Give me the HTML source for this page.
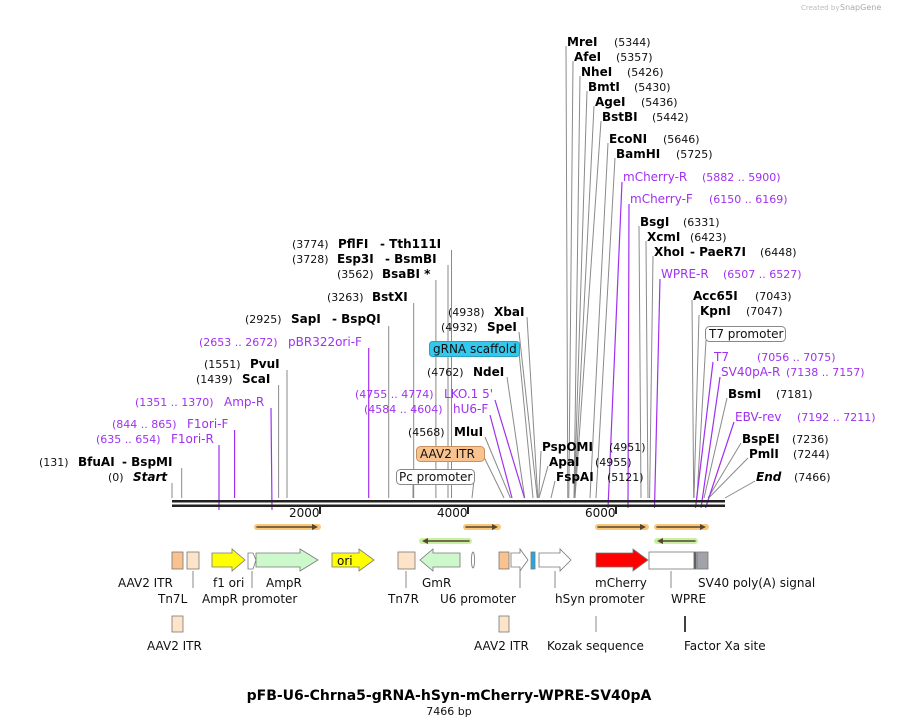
<!DOCTYPE html>
<html><head><meta charset="utf-8"><style>
body{margin:0;background:#fff;}
svg{display:block;font-family:"DejaVu Sans","Liberation Sans",sans-serif;}
.n{font-size:11px;fill:#111;}
.b{font-size:12px;font-weight:bold;fill:#000;}
.p{font-size:12px;fill:#a030f0;}
.pn{font-size:11px;fill:#a030f0;}
.f{font-size:12px;fill:#111;}
.g{stroke:#8a8a8a;stroke-width:1;fill:none;}
.pl{stroke:#a030f0;stroke-width:1.2;fill:none;}
</style></head><body>
<svg width="898" height="727" viewBox="0 0 898 727">
<text x="801" y="10" font-size="7" fill="#bbb">Created by</text><text x="840" y="10" font-size="8" fill="#aaa">SnapGene</text>

<!-- right-side label lines -->
<g class="g">
<line x1="566" y1="46" x2="567.8" y2="498"/>
<line x1="573" y1="61" x2="568.8" y2="498"/>
<line x1="580" y1="76" x2="574" y2="498"/>
<line x1="587" y1="91" x2="574.2" y2="498"/>
<line x1="594" y1="106" x2="574.6" y2="498"/>
<line x1="601" y1="121" x2="575" y2="498"/>
<line x1="608" y1="143" x2="590" y2="498"/>
<line x1="615" y1="158" x2="596" y2="498"/>
<line x1="639" y1="226" x2="641" y2="498"/>
<line x1="646" y1="241" x2="648" y2="498"/>
<line x1="653" y1="256" x2="649.6" y2="498"/>
<line x1="692" y1="300" x2="693.7" y2="498"/>
<line x1="699" y1="315" x2="694" y2="498"/>
<line x1="727" y1="398" x2="704" y2="498"/>
<line x1="741" y1="443" x2="708" y2="498"/>
<line x1="748" y1="458" x2="708.6" y2="498"/>
<line x1="755" y1="481" x2="725" y2="498"/>
<line x1="541" y1="451" x2="538.7" y2="498"/>
<line x1="548" y1="466" x2="539" y2="498"/>
<line x1="555" y1="481" x2="551" y2="498"/>
<line x1="706" y1="340" x2="697" y2="498"/>
<!-- left-side -->
<line x1="451.5" y1="250" x2="451.5" y2="498"/>
<line x1="448" y1="265" x2="448" y2="498"/>
<line x1="435.9" y1="280" x2="435.9" y2="498"/>
<line x1="413.7" y1="303" x2="413.7" y2="498"/>
<line x1="388.7" y1="326" x2="388.7" y2="498"/>
<line x1="287" y1="370" x2="287" y2="498"/>
<line x1="278.6" y1="385" x2="278.6" y2="498"/>
<line x1="181.7" y1="468" x2="181.7" y2="498"/>
<line x1="172" y1="483" x2="172" y2="498"/>
<line x1="527" y1="317" x2="537.8" y2="498"/>
<line x1="519" y1="332" x2="537.3" y2="498"/>
<line x1="519" y1="352" x2="533" y2="498"/>
<line x1="507" y1="377" x2="524.7" y2="498"/>
<line x1="485" y1="437" x2="510.4" y2="498"/>
<line x1="484" y1="457" x2="504" y2="498"/>
<line x1="474" y1="480" x2="472" y2="498"/>
<line x1="413" y1="485" x2="413" y2="498"/>
</g>
<g class="pl">
<line x1="622" y1="182" x2="608" y2="508"/>
<line x1="629" y1="204" x2="628" y2="508"/>
<line x1="660" y1="279" x2="654.5" y2="508"/>
<line x1="713" y1="362" x2="695.5" y2="508"/>
<line x1="720" y1="377" x2="701" y2="508"/>
<line x1="734" y1="422" x2="705.5" y2="508"/>
<line x1="368.7" y1="348" x2="368.7" y2="498"/>
<line x1="271" y1="408" x2="272" y2="510"/>
<line x1="234.6" y1="430" x2="234.6" y2="498"/>
<line x1="219" y1="445" x2="219" y2="510"/>
<line x1="495" y1="400" x2="524.5" y2="498"/>
<line x1="490" y1="415" x2="512" y2="498"/>
</g>

<!-- right labels -->
<text x="567" y="46" class="b">MreI</text><text x="614" y="46" class="n">(5344)</text>
<text x="574" y="61" class="b">AfeI</text><text x="616" y="61" class="n">(5357)</text>
<text x="581" y="76" class="b">NheI</text><text x="627" y="76" class="n">(5426)</text>
<text x="588" y="91" class="b">BmtI</text><text x="634" y="91" class="n">(5430)</text>
<text x="595" y="106" class="b">AgeI</text><text x="641" y="106" class="n">(5436)</text>
<text x="602" y="121" class="b">BstBI</text><text x="652" y="121" class="n">(5442)</text>
<text x="609" y="143" class="b">EcoNI</text><text x="663" y="143" class="n">(5646)</text>
<text x="616" y="158" class="b">BamHI</text><text x="676" y="158" class="n">(5725)</text>
<text x="623" y="181" class="p">mCherry-R</text><text x="702" y="181" class="pn">(5882 .. 5900)</text>
<text x="630" y="203" class="p">mCherry-F</text><text x="709" y="203" class="pn">(6150 .. 6169)</text>
<text x="640" y="226" class="b">BsgI</text><text x="683" y="226" class="n">(6331)</text>
<text x="647" y="241" class="b">XcmI</text><text x="690" y="241" class="n">(6423)</text>
<text x="654" y="256" class="b">XhoI</text><text x="690" y="256" class="b">- PaeR7I</text><text x="760" y="256" class="n">(6448)</text>
<text x="661" y="278" class="p">WPRE-R</text><text x="723" y="278" class="pn">(6507 .. 6527)</text>
<text x="693" y="300" class="b">Acc65I</text><text x="755" y="300" class="n">(7043)</text>
<text x="700" y="315" class="b">KpnI</text><text x="746" y="315" class="n">(7047)</text>
<rect x="705.5" y="326.5" width="80" height="15" rx="4" fill="#fff" stroke="#888"/><text x="709" y="338" class="f">T7 promoter</text>
<text x="714" y="361" class="p">T7</text><text x="757" y="361" class="pn">(7056 .. 7075)</text>
<text x="721" y="376" class="p">SV40pA-R</text><text x="786" y="376" class="pn">(7138 .. 7157)</text>
<text x="728" y="398" class="b">BsmI</text><text x="776" y="398" class="n">(7181)</text>
<text x="735" y="421" class="p">EBV-rev</text><text x="797" y="421" class="pn">(7192 .. 7211)</text>
<text x="742" y="443" class="b">BspEI</text><text x="792" y="443" class="n">(7236)</text>
<text x="749" y="458" class="b">PmlI</text><text x="793" y="458" class="n">(7244)</text>
<text x="756" y="481" class="b" font-style="italic">End</text><text x="794" y="481" class="n">(7466)</text>
<text x="542" y="451" class="b">PspOMI</text><text x="609" y="451" class="n">(4951)</text>
<text x="549" y="466" class="b">ApaI</text><text x="595" y="466" class="n">(4955)</text>
<text x="556" y="481" class="b">FspAI</text><text x="607" y="481" class="n">(5121)</text>

<!-- left labels -->
<text x="292" y="248" class="n">(3774)</text><text x="338" y="248" class="b">PflFI</text><text x="380" y="248" class="b">- Tth111I</text>
<text x="292" y="263" class="n">(3728)</text><text x="337" y="263" class="b">Esp3I</text><text x="385" y="263" class="b">- BsmBI</text>
<text x="337" y="278" class="n">(3562)</text><text x="382" y="278" class="b">BsaBI *</text>
<text x="327" y="301" class="n">(3263)</text><text x="372" y="301" class="b">BstXI</text>
<text x="245" y="323" class="n">(2925)</text><text x="291" y="323" class="b">SapI</text><text x="332" y="323" class="b">- BspQI</text>
<text x="199" y="346" class="pn">(2653 .. 2672)</text><text x="288" y="346" class="p">pBR322ori-F</text>
<text x="204" y="368" class="n">(1551)</text><text x="250" y="368" class="b">PvuI</text>
<text x="196" y="383" class="n">(1439)</text><text x="242" y="383" class="b">ScaI</text>
<text x="135" y="406" class="pn">(1351 .. 1370)</text><text x="224" y="406" class="p">Amp-R</text>
<text x="112" y="428" class="pn">(844 .. 865)</text><text x="187" y="428" class="p">F1ori-F</text>
<text x="96" y="443" class="pn">(635 .. 654)</text><text x="171" y="443" class="p">F1ori-R</text>
<text x="39" y="466" class="n">(131)</text><text x="78" y="466" class="b">BfuAI</text><text x="122" y="466" class="b">- BspMI</text>
<text x="108" y="481" class="n">(0)</text><text x="133" y="481" class="b" font-style="italic">Start</text>
<text x="448" y="316" class="n">(4938)</text><text x="494" y="316" class="b">XbaI</text>
<text x="441" y="331" class="n">(4932)</text><text x="487" y="331" class="b">SpeI</text>
<rect x="429.5" y="341.5" width="90" height="15" rx="3" fill="#33c8ee" stroke="#2aa0c0"/><text x="433" y="353" class="f">gRNA scaffold</text>
<text x="427" y="376" class="n">(4762)</text><text x="473" y="376" class="b">NdeI</text>
<text x="355" y="398" class="pn">(4755 .. 4774)</text><text x="444" y="398" class="p">LKO.1 5'</text>
<text x="364" y="413" class="pn">(4584 .. 4604)</text><text x="453" y="413" class="p">hU6-F</text>
<text x="408" y="436" class="n">(4568)</text><text x="454" y="436" class="b">MluI</text>
<rect x="416.5" y="446.5" width="68" height="15" rx="4" fill="#f9c38f" stroke="#c89060"/><text x="420" y="458" class="f">AAV2 ITR</text>
<rect x="396.5" y="469.5" width="78" height="15" rx="4" fill="#fff" stroke="#888"/><text x="399" y="481" class="f">Pc promoter</text>

<!-- backbone -->
<rect x="172" y="500" width="553" height="2.5" fill="#222"/>
<rect x="172" y="504.5" width="553" height="2.5" fill="#222"/>
<g stroke="#222" stroke-width="2"><line x1="320" y1="507" x2="320" y2="514"/><line x1="468" y1="507" x2="468" y2="514"/><line x1="616" y1="507" x2="616" y2="514"/></g>
<text x="289" y="517" class="f">2000</text><text x="437" y="517" class="f">4000</text><text x="585" y="517" class="f">6000</text>

<!-- primer arrows -->
<g stroke-linecap="round">
<g stroke="#f8c878" stroke-width="6"><line x1="257" y1="527" x2="318" y2="527"/><line x1="466" y1="527" x2="498" y2="527"/><line x1="598" y1="527" x2="646" y2="527"/><line x1="657" y1="527" x2="706" y2="527"/></g>
<g stroke="#c8f0a0" stroke-width="6"><line x1="422" y1="541" x2="469" y2="541"/><line x1="657" y1="541" x2="695" y2="541"/></g>
<g stroke="#554433" stroke-width="1.5"><line x1="257" y1="527" x2="314" y2="527"/><line x1="466" y1="527" x2="494" y2="527"/><line x1="598" y1="527" x2="642" y2="527"/><line x1="657" y1="527" x2="702" y2="527"/><line x1="427" y1="541" x2="469" y2="541"/><line x1="662" y1="541" x2="695" y2="541"/></g>
</g>
<g fill="#554433"><path d="M318,527 l-6,-3 v6z"/><path d="M498,527 l-6,-3 v6z"/><path d="M646,527 l-6,-3 v6z"/><path d="M706,527 l-6,-3 v6z"/><path d="M422,541 l6,-3 v6z"/><path d="M657,541 l6,-3 v6z"/></g>

<!-- features -->
<g stroke="#777" stroke-width="0.8">
<rect x="172" y="552" width="11" height="17" fill="#f9c38f"/>
<rect x="187" y="552" width="12" height="17" fill="#fde3c8"/>
<path d="M212,553 h20 v-4 l13,11 -13,11 v-4 h-20z" fill="#ffff00"/>
<path d="M248,553 h5 l3,7 -3,9 h-5z" fill="#fff"/>
<path d="M256,553 h44 v-4 l18,11 -18,11 v-4 h-44z" fill="#ccf8cc"/>
<path d="M332,553 h27 v-4 l15,11 -15,11 v-4 h-27z" fill="#ffff00"/>
<rect x="398" y="552" width="17" height="17" fill="#fde3c8"/>
<path d="M460,553 h-27 v-4 l-13,11 13,11 v-4 h27z" fill="#ccf8cc"/>
<ellipse cx="473" cy="560" rx="1.5" ry="8" fill="#fff"/>
<rect x="499" y="552" width="10" height="17" fill="#f9c38f"/>
<path d="M511,553 h9 v-4 l8,11 -8,11 v-4 h-9z" fill="#fff"/>
<rect x="531" y="552" width="4" height="17" fill="#22aadd"/>
<path d="M539,553 h21 v-4 l11,11 -11,11 v-4 h-21z" fill="#fff"/>
<path d="M596,553 h37 v-4 l15,11 -15,11 v-4 h-37z" fill="#ff0000"/>
<rect x="649" y="552" width="45" height="17" fill="#fff"/>
<rect x="694" y="552" width="2" height="17" fill="#555"/>
<rect x="697" y="552" width="11" height="17" fill="#a0a4a8"/>
</g>
<text x="337" y="565" class="f">ori</text>
<g class="g">
<line x1="193" y1="571" x2="193" y2="588"/><line x1="252" y1="571" x2="252" y2="588"/>
<line x1="406" y1="571" x2="406" y2="588"/><line x1="520" y1="571" x2="520" y2="588"/>
<line x1="555" y1="571" x2="555" y2="588"/><line x1="671" y1="571" x2="671" y2="588"/>
<line x1="596" y1="616" x2="596" y2="632"/>
</g>
<line x1="685" y1="616" x2="685" y2="632" stroke="#000" stroke-width="1.5"/>
<text x="118" y="587" class="f">AAV2 ITR</text><text x="158" y="603" class="f">Tn7L</text>
<text x="213" y="587" class="f">f1 ori</text><text x="266" y="587" class="f">AmpR</text>
<text x="202" y="603" class="f">AmpR promoter</text>
<text x="388" y="603" class="f">Tn7R</text><text x="422" y="587" class="f">GmR</text>
<text x="440" y="603" class="f">U6 promoter</text><text x="555" y="603" class="f">hSyn promoter</text>
<text x="595" y="587" class="f">mCherry</text><text x="671" y="603" class="f">WPRE</text>
<text x="698" y="587" class="f">SV40 poly(A) signal</text>
<rect x="172" y="616" width="11" height="16" fill="#fde3c8" stroke="#777" stroke-width="0.8"/>
<rect x="499" y="616" width="10" height="16" fill="#fde3c8" stroke="#777" stroke-width="0.8"/>
<text x="147" y="650" class="f">AAV2 ITR</text><text x="474" y="650" class="f">AAV2 ITR</text>
<text x="547" y="650" class="f">Kozak sequence</text><text x="684" y="650" class="f">Factor Xa site</text>

<text x="449" y="700" text-anchor="middle" font-size="14" font-weight="bold" fill="#000">pFB-U6-Chrna5-gRNA-hSyn-mCherry-WPRE-SV40pA</text>
<text x="449" y="715" text-anchor="middle" font-size="11" fill="#111">7466 bp</text>
</svg>
</body></html>
